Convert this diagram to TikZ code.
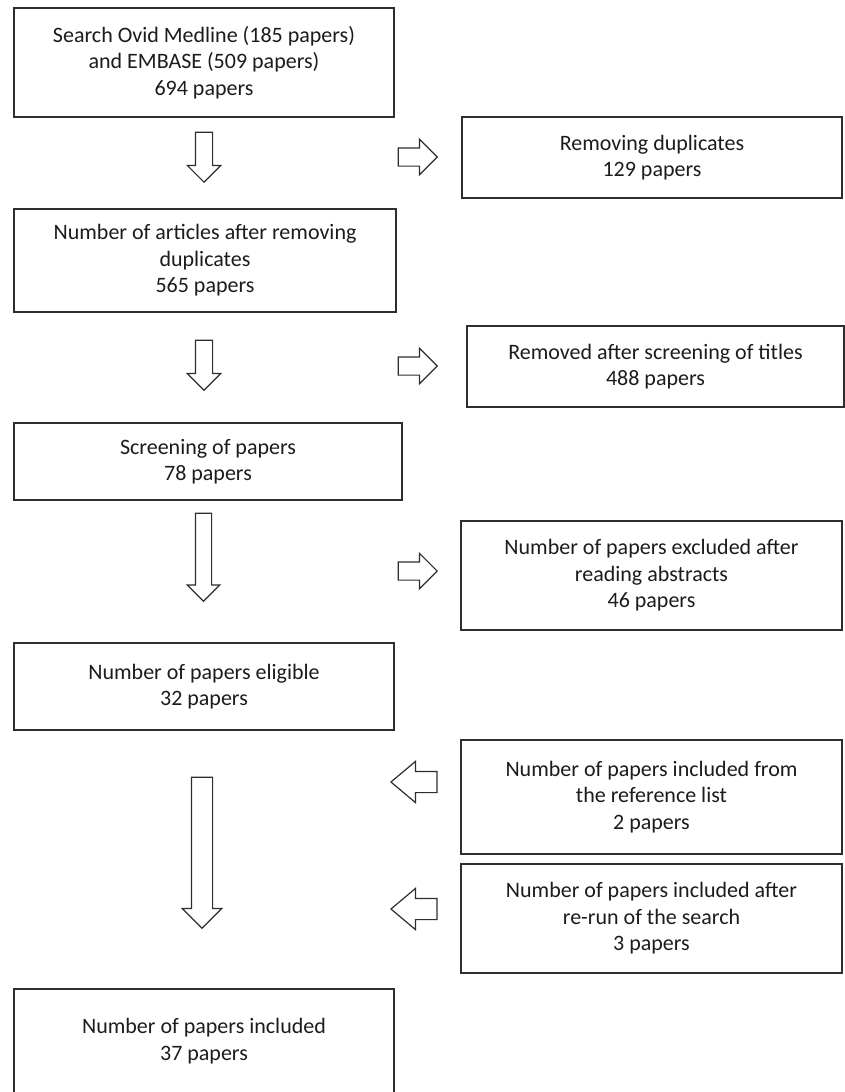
\documentclass[tikz,border=0pt]{standalone}
\usepackage{fontspec}
\setmainfont{Carlito}
\usepackage{tikz}
\usetikzlibrary{positioning, shapes.arrows}
\definecolor{edge}{HTML}{2E2E2E}
\definecolor{ink}{HTML}{1C1C1C}
\tikzset{
  flow box/.style={
    draw=edge,
    line width=1.4pt,
    fill=white,
    minimum width=380pt,
    align=center,
    text=ink,
    font=\fontsize{22}{26.5}\selectfont
  },
  block arrow/.style={
    single arrow,
    draw=edge,
    line width=1.2pt,
    inner xsep=0pt,
    inner ysep=8pt,
    minimum width=0pt,
    single arrow head extend=8pt,
    anchor=tip
  },
  down arrow/.style={block arrow, rotate=-90},
  back arrow/.style={block arrow, rotate=180, inner ysep=10pt,
    single arrow head extend=10pt, single arrow tip angle=80}
}

\begin{document}
\begin{tikzpicture}[x=1pt, y=-1pt]
  \clip (0,0) rectangle (845,1092);
  \fill[white] (0,0) rectangle (845,1092);

  % main column
  \node[flow box, minimum height=109pt] (search) at (204,62.5)
    {Search Ovid Medline (185 papers)\\ and EMBASE (509 papers)\\ 694 papers};
  \node[flow box, minimum width=382pt, minimum height=103pt] (articles) at (205,260.5)
    {Number of articles after removing\\ duplicates\\ 565 papers};
  \node[flow box, minimum width=388pt, minimum height=77pt] (screening) at (208,461.5)
    {Screening of papers\\ 78 papers};
  \node[flow box, minimum height=87pt] (eligible) at (204,686.5)
    {Number of papers eligible\\ 32 papers};
  \node[flow box, minimum height=104pt] (included) at (204,1041)
    {Number of papers included\\ 37 papers};

  % side column
  \node[flow box, minimum height=81pt] (dupes) at (652,157.5)
    {Removing duplicates\\ 129 papers};
  \node[flow box, minimum width=377pt, minimum height=81pt] (titles) at (655.5,366.5)
    {Removed after screening of titles\\ 488 papers};
  \node[flow box, minimum width=381pt, minimum height=109pt] (abstracts) at (651.5,575.5)
    {Number of papers excluded after\\ reading abstracts\\ 46 papers};
  \node[flow box, minimum width=381pt, minimum height=114pt] (reflist) at (651.5,797)
    {Number of papers included from\\ the reference list\\ 2 papers};
  \node[flow box, minimum width=381pt, minimum height=109pt] (rerun) at (651.5,918.5)
    {Number of papers included after\\ re-run of the search\\ 3 papers};

  % block arrows, placed by their tips
  \node[down arrow, minimum height=50pt] (dn1) at (204,183) {};
  \node[down arrow, minimum height=50pt] (dn2) at (204,391) {};
  \node[down arrow, minimum height=88pt, inner ysep=7.5pt] (dn3) at (203.5,602) {};
  \node[down arrow, minimum height=151pt, inner ysep=10pt,
    single arrow head extend=9pt] (dn4) at (202,929) {};

  \node[block arrow, minimum height=39pt, inner ysep=8.5pt,
    single arrow head extend=8.5pt] (rt1) at (438,157) {};
  \node[block arrow, minimum height=39pt, inner ysep=8.5pt,
    single arrow head extend=8.5pt] (rt2) at (438,366) {};
  \node[block arrow, minimum height=39pt, inner ysep=8.5pt,
    single arrow head extend=8.5pt] (rt3) at (438,571) {};

  \node[back arrow, minimum height=46pt] (lt1) at (390,782) {};
  \node[back arrow, minimum height=46pt] (lt2) at (390,909) {};
\end{tikzpicture}
\end{document}
